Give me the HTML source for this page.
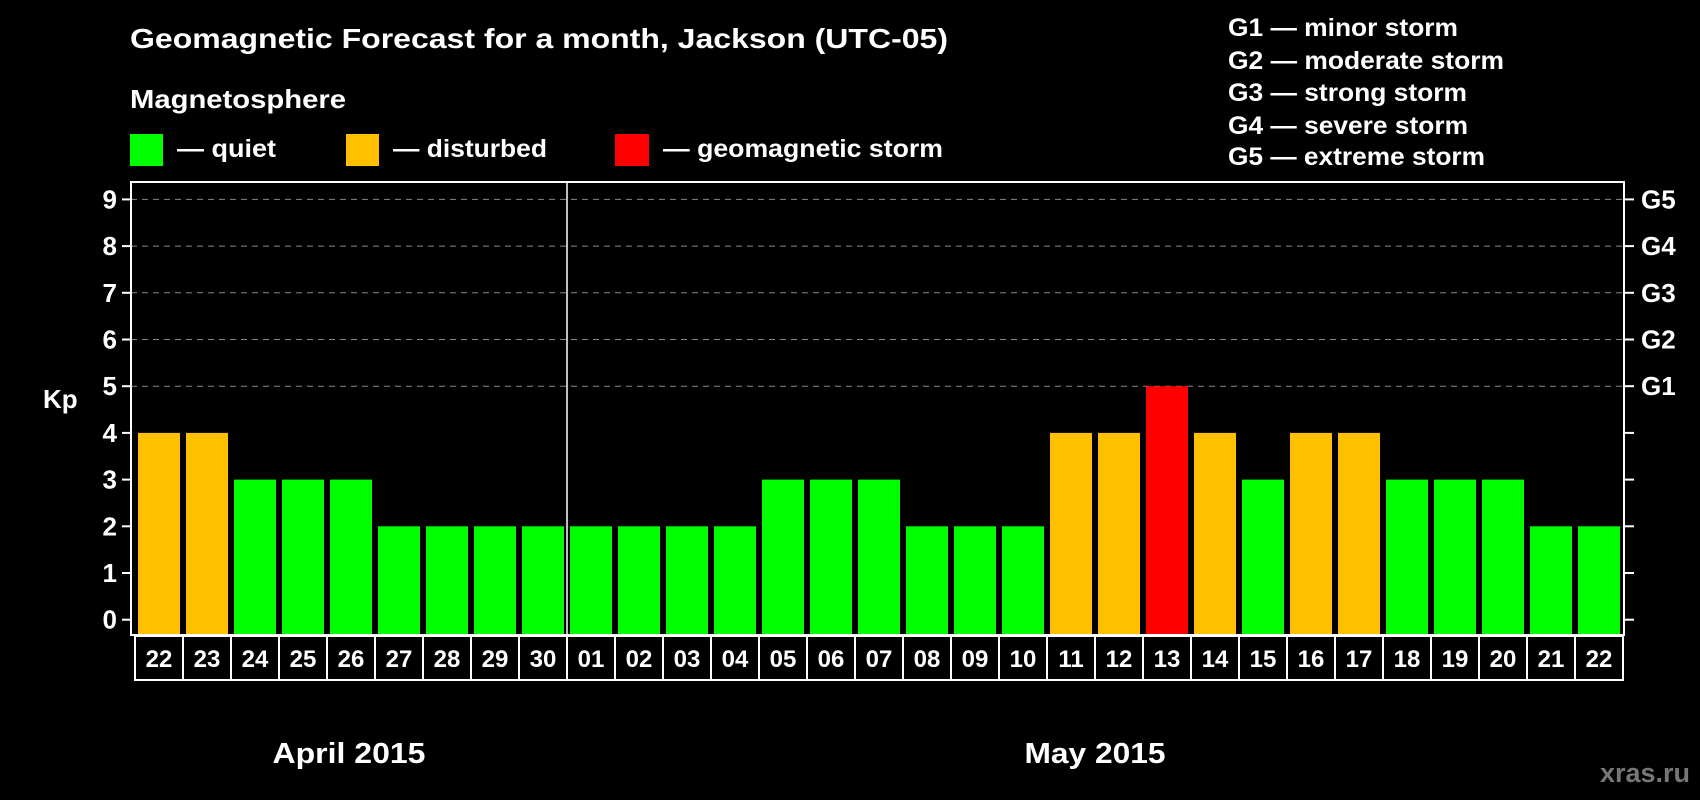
<!DOCTYPE html>
<html><head><meta charset="utf-8"><style>
html,body{margin:0;padding:0;background:#000;width:1700px;height:800px;overflow:hidden}
svg{display:block;font-family:"Liberation Sans",Arial,sans-serif;font-weight:bold}
</style></head><body>
<svg id="chart" width="1700" height="800" viewBox="0 0 1700 800">
<text x="130" y="48" fill="#fff" font-size="28" textLength="818" lengthAdjust="spacingAndGlyphs">Geomagnetic Forecast for a month, Jackson (UTC-05)</text>
<text x="130" y="108" fill="#fff" font-size="26" textLength="216" lengthAdjust="spacingAndGlyphs">Magnetosphere</text>
<g><rect x="130" y="134" width="33" height="32" fill="#00ff00"/><text x="177" y="157" fill="#fff" font-size="25" textLength="99" lengthAdjust="spacingAndGlyphs">— quiet</text></g>
<g><rect x="346" y="134" width="33" height="32" fill="#ffc000"/><text x="393" y="157" fill="#fff" font-size="25" textLength="154" lengthAdjust="spacingAndGlyphs">— disturbed</text></g>
<g><rect x="615" y="134" width="34" height="32" fill="#ff0000"/><text x="663" y="157" fill="#fff" font-size="25" textLength="280" lengthAdjust="spacingAndGlyphs">— geomagnetic storm</text></g>
<g fill="#fff" font-size="25">
<text x="1228" y="36" textLength="230" lengthAdjust="spacingAndGlyphs">G1 — minor storm</text>
<text x="1228" y="69" textLength="276" lengthAdjust="spacingAndGlyphs">G2 — moderate storm</text>
<text x="1228" y="101" textLength="239" lengthAdjust="spacingAndGlyphs">G3 — strong storm</text>
<text x="1228" y="134" textLength="240" lengthAdjust="spacingAndGlyphs">G4 — severe storm</text>
<text x="1228" y="165" textLength="257" lengthAdjust="spacingAndGlyphs">G5 — extreme storm</text>
</g>
<text x="43" y="408" fill="#fff" font-size="26">Kp</text>
<g id="grid"></g><g id="bars"></g><g id="axes"></g>
<text x="349" y="763" fill="#fff" font-size="29" text-anchor="middle" textLength="153" lengthAdjust="spacingAndGlyphs">April 2015</text>
<text x="1095" y="763" fill="#fff" font-size="29" text-anchor="middle" textLength="141" lengthAdjust="spacingAndGlyphs">May 2015</text>
<text x="1690" y="782" fill="#777" font-size="27" text-anchor="end">xras.ru</text>
</svg>
<script>
const days = ["22","23","24","25","26","27","28","29","30","01","02","03","04","05","06","07","08","09","10","11","12","13","14","15","16","17","18","19","20","21","22"];
const kpValues = [4,4,3,3,3,2,2,2,2,2,2,2,2,3,3,3,2,2,2,4,4,5,4,3,4,4,3,3,3,2,2];
const yTicks = [0,1,2,3,4,5,6,7,8,9];
const gLabels = {5:"G1",6:"G2",7:"G3",8:"G4",9:"G5"};
const monthSplitIndex = 9;
const NS="http://www.w3.org/2000/svg";
const L=131,R=1624,T=182,B=635,X0=138,STEP=48,BW=42;
const y=v=>619.7-v*46.7;
const x=i=>X0+i*STEP;
function mk(tag,attrs,parent){const e=document.createElementNS(NS,tag);for(const k in attrs)e.setAttribute(k,attrs[k]);parent.appendChild(e);return e;}
const grid=document.getElementById('grid'),bars=document.getElementById('bars'),axes=document.getElementById('axes');
yTicks.forEach(v=>{
  if(v>=5){const g=mk('line',{x1:L,x2:R,y1:y(v),y2:y(v),stroke:'#888','stroke-dasharray':'6,5','stroke-width':1},grid);
  
  }
  const tl=mk('line',{x1:122,x2:L,y1:y(v),y2:y(v),stroke:'#fff','stroke-width':2},axes);
  
  
  const tr=mk('line',{x1:R,x2:1634,y1:y(v),y2:y(v),stroke:'#fff','stroke-width':2},axes);
  
  
  const t=mk('text',{x:117,y:y(v)+9,fill:'#fff','font-size':26,'text-anchor':'end'},axes);t.textContent=v;
  
  
  if(gLabels[v]){const g=mk('text',{x:1641,y:y(v)+9,fill:'#fff','font-size':26},axes);g.textContent=gLabels[v];
  
  }
});
kpValues.forEach((v,i)=>{
  const c=v>=5?'#ff0000':(v>=4?'#ffc000':'#00ff00');
  const b=mk('rect',{x:x(i),y:y(v),width:BW,height:B-y(v),fill:c},bars);
  
  
});
const frame=mk('rect',{x:L,y:T,width:R-L,height:B-T,fill:'none',stroke:'#fff','stroke-width':2},axes);


const sep=mk('line',{x1:x(monthSplitIndex)-3,x2:x(monthSplitIndex)-3,y1:T,y2:B,stroke:'#fff','stroke-width':1.5},axes);


days.forEach((d,i)=>{
  const r=mk('rect',{x:x(i)-3,y:636,width:STEP,height:44,fill:'none',stroke:'#fff','stroke-width':2},axes);
  
  
  const t=mk('text',{x:x(i)+BW/2,y:667,fill:'#fff','font-size':24,'text-anchor':'middle'},axes);t.textContent=d;
  
  
});
</script>
</body></html>
